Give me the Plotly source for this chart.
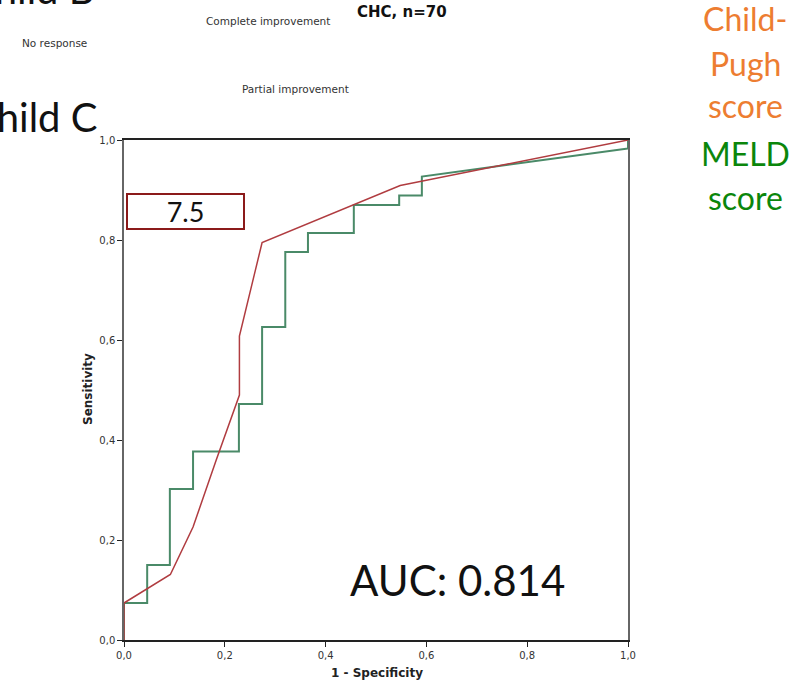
import plotly.graph_objects as go

# MELD score ROC (step curve)
meld_fpr = [0, 0, 0.046, 0.046, 0.091, 0.091, 0.137, 0.137, 0.228, 0.228, 0.274, 0.274,
            0.320, 0.320, 0.365, 0.365, 0.456, 0.456, 0.546, 0.546, 0.591, 0.591, 1.0, 1.0]
meld_tpr = [0, 0.074, 0.074, 0.150, 0.150, 0.302, 0.302, 0.377, 0.377, 0.472, 0.472, 0.626,
            0.626, 0.776, 0.776, 0.814, 0.814, 0.870, 0.870, 0.889, 0.889, 0.927, 0.983, 1.0]

# Child-Pugh score ROC
cp_fpr = [0, 0, 0.092, 0.137, 0.183, 0.229, 0.229, 0.274, 0.548, 1.0]
cp_tpr = [0, 0.074, 0.131, 0.226, 0.360, 0.490, 0.608, 0.795, 0.909, 1.0]

tick_vals = [0, 0.2, 0.4, 0.6, 0.8, 1.0]
tick_text = ["0,0", "0,2", "0,4", "0,6", "0,8", "1,0"]

W, H = 803, 681
L, R, T, B = 124, 175, 140, 41

fig = go.Figure()
fig.add_trace(go.Scatter(x=meld_fpr, y=meld_tpr, mode="lines",
                         line=dict(color="#4a8a68", width=2), showlegend=False))
fig.add_trace(go.Scatter(x=cp_fpr, y=cp_tpr, mode="lines",
                         line=dict(color="#b03c40", width=1.5), showlegend=False))

def px_to_paper_x(px):
    return (px - L) / (W - L - R)

def px_to_paper_y(py):
    return (H - B - py) / (H - T - B)

def text_at(px, py, text, family, size, color, **kw):
    d = dict(x=px_to_paper_x(px), y=px_to_paper_y(py), xref="paper", yref="paper",
             text=text, showarrow=False, xanchor="center", yanchor="middle",
             font=dict(family=family, size=size, color=color))
    d.update(kw)
    return d

ann = []
# 7.5 box
ann.append(dict(x=0.122, y=0.857, xref="x", yref="y", text="7.5", showarrow=False,
                xanchor="center", yanchor="middle",
                font=dict(family="Lato", size=27, color="#111"),
                bordercolor="#8b1a1a", borderwidth=2, borderpad=0,
                width=115, height=33, bgcolor="rgba(0,0,0,0)"))
# AUC text
ann.append(dict(x=0.662, y=0.12, xref="x", yref="y", text="AUC: 0.814", showarrow=False,
                xanchor="center", yanchor="middle",
                font=dict(family="Lato", size=42, color="#111")))
# axis titles
ann.append(text_at(377, 673, "<b>1 - Specificity</b>", "DejaVu Sans", 12, "#222"))
ann.append(text_at(88, 389, "<b>Sensitivity</b>", "DejaVu Sans", 12, "#222", textangle=-90))
# clipped big left texts
ann.append(text_at(99, 117, "Child C", "Lato", 40, "#111", xanchor="right"))
ann.append(text_at(97, -11, "Child B", "Lato", 40, "#111", xanchor="right"))
# small stray labels
ann.append(text_at(402, 12, "<b>CHC, n=70</b>", "DejaVu Sans", 15, "#111"))
ann.append(text_at(268, 21, "Complete improvement", "DejaVu Sans", 10.5, "#333"))
ann.append(text_at(54, 43, "No response", "DejaVu Sans", 10.5, "#333"))
ann.append(text_at(295, 89, "Partial improvement", "DejaVu Sans", 10.5, "#333"))
# right legend-like texts
right_lines = [("Child-", "#ed7d31", 18), ("Pugh", "#ed7d31", 63), ("score", "#ed7d31", 106),
               ("MELD", "#0b860b", 153), ("score", "#0b860b", 197)]
for txt, col, yy in right_lines:
    ann.append(text_at(745, yy, txt, "Lato", 32, col))

fig.update_layout(
    width=W, height=H,
    margin=dict(l=L, r=R, t=T, b=B),
    paper_bgcolor="white", plot_bgcolor="white",
    annotations=ann,
    xaxis=dict(range=[0, 1], tickvals=tick_vals, ticktext=tick_text, showgrid=False,
               zeroline=False, showline=True, linecolor="#222", linewidth=1.5, mirror=True,
               ticks="outside", ticklen=5, tickcolor="#222",
               tickfont=dict(family="DejaVu Sans", size=10, color="#333")),
    yaxis=dict(range=[0, 1], tickvals=tick_vals, ticktext=tick_text, showgrid=False,
               zeroline=False, showline=True, linecolor="#666", linewidth=1.5, mirror=True,
               ticks="outside", ticklen=5, tickcolor="#222",
               tickfont=dict(family="DejaVu Sans", size=10, color="#333")),
)

fig.write_html("out.html", config={"displayModeBar": False},
               post_script="document.body.style.margin='0';")
